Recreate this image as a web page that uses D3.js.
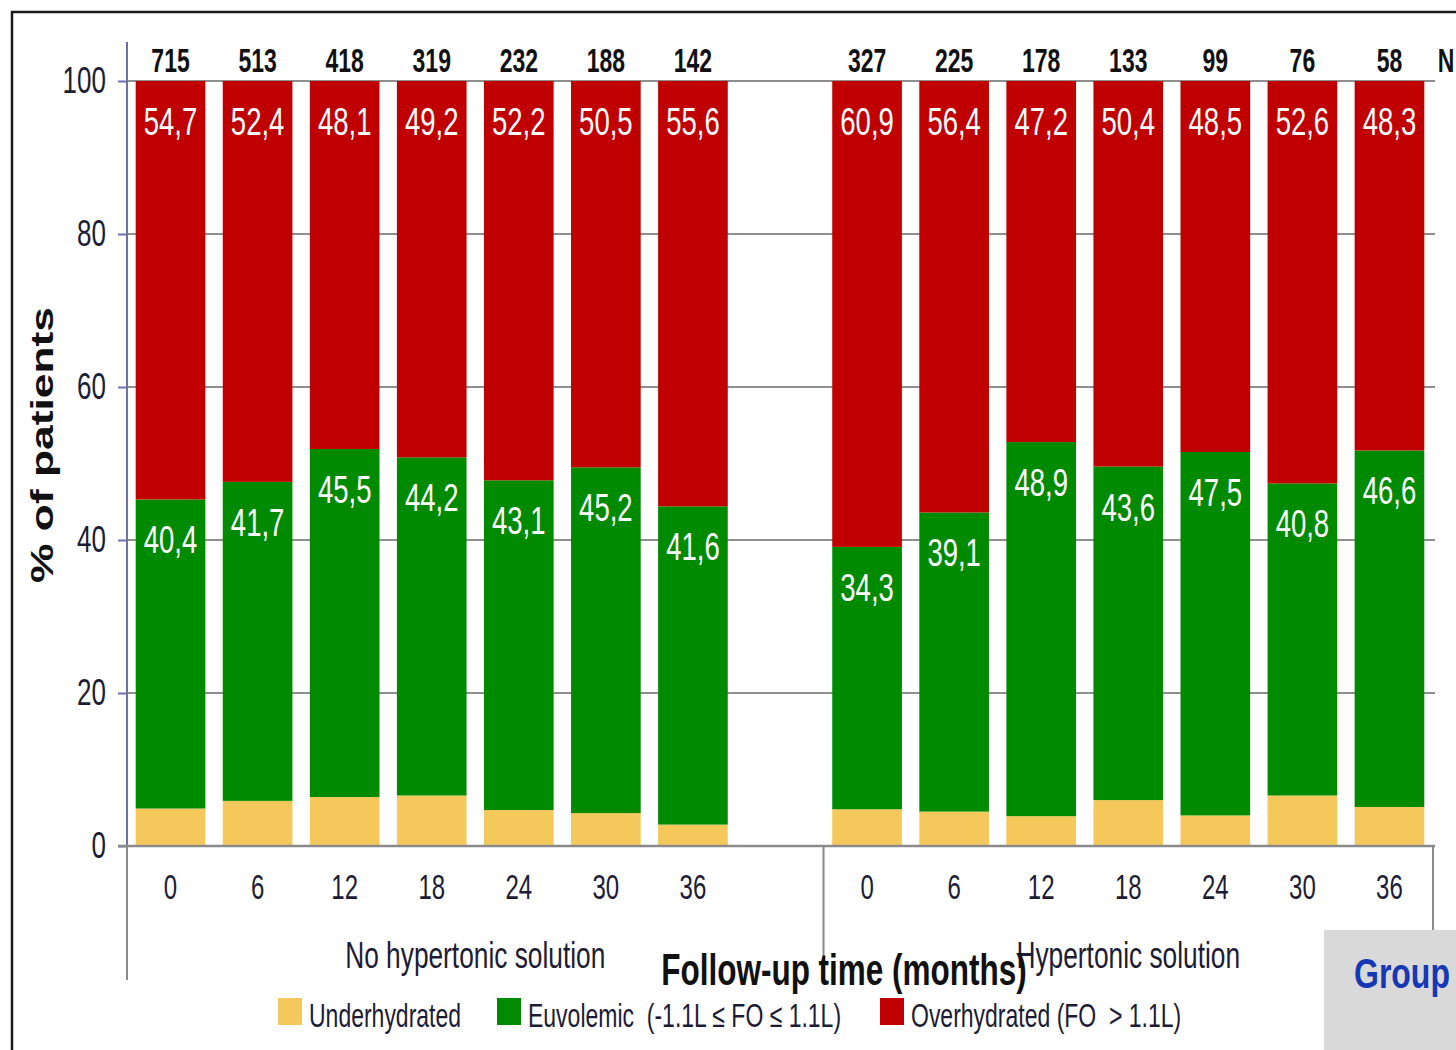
<!DOCTYPE html>
<html>
<head>
<meta charset="utf-8">
<script src="https://cdn.jsdelivr.net/npm/d3@7"></script>
<style>
  html, body { margin: 0; padding: 0; background: #fff; }
  svg { display: block; font-family: "Liberation Sans", Arial, sans-serif; }
  text { white-space: pre; }
</style>
</head>
<body>
<svg id="chart" width="1456" height="1050"></svg>
<script>
// Follow-up months per group
const months = [0, 6, 12, 18, 24, 30, 36];
const groupNames = ["No hypertonic solution", "Hypertonic solution"];

// Number of patients at each visit
const nNoHypertonic = [715, 513, 418, 319, 232, 188, 142];
const nHypertonic = [327, 225, 178, 133, 99, 76, 58];

// Share of patients (%) per hydration status
const underNoHypertonic = [4.9, 5.9, 6.4, 6.6, 4.7, 4.3, 2.8];
const euvoNoHypertonic = [40.4, 41.7, 45.5, 44.2, 43.1, 45.2, 41.6];
const overNoHypertonic = [54.7, 52.4, 48.1, 49.2, 52.2, 50.5, 55.6];

const underHypertonic = [4.8, 4.5, 3.9, 6.0, 4.0, 6.6, 5.1];
const euvoHypertonic = [34.3, 39.1, 48.9, 43.6, 47.5, 40.8, 46.6];
const overHypertonic = [60.9, 56.4, 47.2, 50.4, 48.5, 52.6, 48.3];

const yTicks = [0, 20, 40, 60, 80, 100];
const statusKeys = ["under", "euvo", "over"];
const statusLabels = ["Underhydrated", "Euvolemic  (-1.1L \u2264 FO \u2264 1.1L)", "Overhydrated (FO  > 1.1L)"];
const statusColors = ["#F5C85C", "#008A00", "#C00000"];

// Build one row per bar, plus an empty slot separating the two groups
const rows = [];
months.forEach((m, i) => rows.push({ key: "a" + m, month: m, group: 0, n: nNoHypertonic[i],
  under: underNoHypertonic[i], euvo: euvoNoHypertonic[i], over: overNoHypertonic[i] }));
const gapKey = "gap";
months.forEach((m, i) => rows.push({ key: "b" + m, month: m, group: 1, n: nHypertonic[i],
  under: underHypertonic[i], euvo: euvoHypertonic[i], over: overHypertonic[i] }));
const slotKeys = rows.filter(r => r.group === 0).map(r => r.key)
  .concat([gapKey], rows.filter(r => r.group === 1).map(r => r.key));

const svg = d3.select("#chart");
const SY = 1.43;               // vertical stretch applied to all text
const TXT = "#1c1c34";

const x = d3.scaleBand().domain(slotKeys).range([127, 1433]).paddingInner(0.2).paddingOuter(0.1);
const y = d3.scaleLinear().domain([0, 100]).range([846, 81]);

// Outer frame
svg.append("rect").attr("x", 12).attr("y", 12).attr("width", 1500).attr("height", 1100)
  .attr("fill", "none").attr("stroke", "#1a1a1a").attr("stroke-width", 2.5);

// Stretched text helper
function stext(parent, tx, ty, str, size, opts = {}) {
  const g = parent.append("g").attr("transform", `translate(${tx},${ty}) scale(${opts.sx || 1},${opts.sy || SY})`);
  const t = g.append("text").text(str)
    .attr("font-size", size)
    .attr("font-weight", opts.bold ? "bold" : "normal")
    .attr("fill", opts.fill || TXT)
    .attr("text-anchor", opts.anchor || "middle");
  if (opts.rotate) t.attr("transform", `rotate(${opts.rotate})`);
  return t;
}

// Gridlines
svg.append("g").selectAll("line").data(yTicks.filter(v => v > 0)).join("line")
  .attr("x1", 127).attr("x2", 1435)
  .attr("y1", d => y(d)).attr("y2", d => y(d))
  .attr("stroke", "#8f8f8f").attr("stroke-width", 2);

// Stacked bars
const stack = d3.stack().keys(statusKeys);
const series = stack(rows);
const barG = svg.append("g");
series.forEach((s, si) => {
  barG.append("g").attr("fill", statusColors[si])
    .selectAll("rect").data(s).join("rect")
    .attr("x", d => x(d.data.key))
    .attr("width", x.bandwidth())
    .attr("y", d => y(d[1]))
    .attr("height", d => y(d[0]) - y(d[1]));
});

// Value labels for euvolemic and overhydrated segments
const fmt = v => v.toFixed(1).replace(".", ",");
const labG = svg.append("g");
series.slice(1).forEach(s => {
  s.forEach(d => {
    stext(labG, x(d.data.key) + x.bandwidth() / 2, y(d[1]) + 54, fmt(d[1] - d[0]), 27.5, { fill: "#ffffff" });
  });
});

// Patient counts above the bars
const nG = svg.append("g");
rows.forEach(r => stext(nG, x(r.key) + x.bandwidth() / 2, 72, String(r.n), 23, { bold: true, fill: "#111" }));
stext(nG, 1446, 72, "N", 23, { bold: true, fill: "#111" });

// Y axis
const yAxis = svg.append("g").attr("transform", "translate(127,0)")
  .call(d3.axisLeft(y).tickValues(yTicks).tickSize(9).tickPadding(12).tickFormat(d3.format("d")));
yAxis.select(".domain").remove();
yAxis.selectAll(".tick line").attr("stroke", "#6f6fb0").attr("stroke-width", 2);
yAxis.selectAll(".tick text").attr("font-size", 26).attr("fill", TXT)
  .attr("font-family", "Liberation Sans, Arial, sans-serif")
  .attr("transform", `scale(1,${SY})`);
svg.append("line").attr("x1", 127).attr("x2", 127).attr("y1", 42).attr("y2", 846)
  .attr("stroke", "#6f6fb0").attr("stroke-width", 2);
svg.append("line").attr("x1", 127).attr("x2", 127).attr("y1", 846).attr("y2", 980)
  .attr("stroke", "#8a8a8a").attr("stroke-width", 2);

// X axis with month labels
const rowByKey = new Map(rows.map(r => [r.key, r]));
const xAxis = svg.append("g").attr("transform", "translate(0,846)")
  .call(d3.axisBottom(x).tickSize(0).tickFormat(k => rowByKey.has(k) ? rowByKey.get(k).month : ""));
xAxis.select(".domain").remove();
xAxis.selectAll(".tick text").attr("font-size", 24).attr("fill", TXT)
  .attr("font-family", "Liberation Sans, Arial, sans-serif")
  .attr("y", 0).attr("dy", 0)
  .attr("transform", `translate(0,53) scale(1,${SY})`);
svg.append("line").attr("x1", 118).attr("x2", 1435).attr("y1", 846).attr("y2", 846)
  .attr("stroke", "#8a8a8a").attr("stroke-width", 2.5);

// Group separators
const midX = x("b0") - x.step() * x.paddingInner() / 2;
svg.append("line").attr("x1", midX).attr("x2", midX).attr("y1", 846).attr("y2", 957)
  .attr("stroke", "#8a8a8a").attr("stroke-width", 2);
svg.append("line").attr("x1", 1433).attr("x2", 1433).attr("y1", 846).attr("y2", 960)
  .attr("stroke", "#8a8a8a").attr("stroke-width", 2);

// Group names
stext(svg, (127 + midX) / 2, 968, groupNames[0], 26.3);
stext(svg, (midX + 1433) / 2, 968, groupNames[1], 26.3);

// Axis titles
stext(svg, 844, 985, "Follow-up time (months)", 31.5, { bold: true, fill: "#111" });
stext(svg, 53, 445, "% of patients", 31, { bold: true, fill: "#111", rotate: -90 });

// Legend
const legendX = [278, 497, 880];
statusLabels.forEach((lab, i) => {
  svg.append("rect").attr("x", legendX[i]).attr("y", 998).attr("width", 24).attr("height", 27)
    .attr("fill", statusColors[i]);
  stext(svg, legendX[i] + 31, 1027, lab, 23, { anchor: "start" });
});

// Group box
svg.append("rect").attr("x", 1324).attr("y", 930).attr("width", 200).attr("height", 200)
  .attr("fill", "#d9d9d9");
stext(svg, 1354, 988, "Group", 32, { bold: true, fill: "#1638b4", anchor: "start", sy: 1.35 });
</script>
</body>
</html>
